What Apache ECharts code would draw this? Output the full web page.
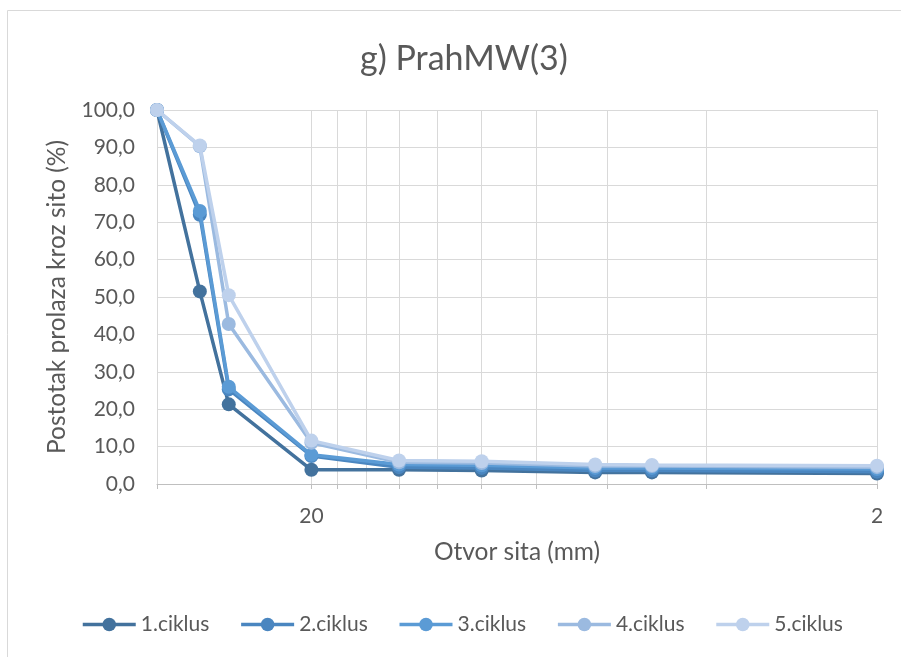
<html lang="hr">
  <head>
    <meta charset="utf-8" />
    <title>g) PrahMW(3)</title>
    <script src="https://cdn.jsdelivr.net/npm/echarts@6/dist/echarts.min.js"></script>
    <style>
      body { margin: 0; background: #fff; }
    </style>
  </head>
  <body>
    <div id="main" style="width: 901px;height:657px;"></div>
    <script type="text/javascript">
      // otvori sita (mm) i prolazi (%) po ciklusima
      var sita = [37.5, 31.5, 28, 20, 14, 10, 6.3, 5, 2];
      var ciklus1 = [100, 51.5, 21.3, 3.8, 3.8, 3.6, 3.1, 3.1, 2.8];
      var ciklus2 = [100, 72.0, 25.3, 7.5, 4.5, 4.3, 3.6, 3.6, 3.3];
      var ciklus3 = [100, 73.0, 26.0, 7.8, 5.2, 5.0, 4.3, 4.3, 4.0];
      var ciklus4 = [100, 90.3, 42.8, 11.0, 5.8, 5.6, 4.8, 4.8, 4.5];
      var ciklus5 = [100, 90.5, 50.5, 11.6, 6.3, 6.1, 5.2, 5.1, 4.9];
      var imena = ['1.ciklus', '2.ciklus', '3.ciklus', '4.ciklus', '5.ciklus'];
      var boje = ['#43729d', '#4a86c0', '#5b9bd5', '#9bbae0', '#bed1ec'];
      var xOznake = [2, 20];
      var xCrtice = [2, 4, 6, 8, 10, 12, 14, 16, 18, 20, 37.5];

      var font = 'Lato, "Open Sans", sans-serif';
      var siva = '#595959';

      function parovi(vals) {
        return sita.map(function (s, i) { return [s, vals[i]]; });
      }

      var myChart = echarts.init(document.getElementById('main'));
      var svi = [ciklus1, ciklus2, ciklus3, ciklus4, ciklus5];

      var option = {
        animation: false,
        color: boje,
        title: {
          text: 'g) PrahMW(3)',
          left: 355,
          top: 37,
          textStyle: { fontFamily: font, fontSize: 34, fontWeight: 'normal', color: siva }
        },
        graphic: [{
          type: 'rect',
          shape: { x: 7.5, y: 10.5, width: 920, height: 700 },
          style: { fill: 'none', stroke: '#d9d9d9', lineWidth: 1 },
          silent: true
        }],
        legend: {
          bottom: 17,
          left: 76,
          itemWidth: 53,
          itemHeight: 17,
          itemGap: 30,
          lineStyle: { width: 3.5 },
          textStyle: { fontFamily: font, fontSize: 21, color: siva },
          data: imena
        },
        grid: { left: 157, right: 24, top: 110, bottom: 173 },
        xAxis: {
          type: 'log',
          logBase: 10,
          min: 2,
          max: 37.5,
          inverse: true,
          name: 'Otvor sita (mm)',
          nameLocation: 'middle',
          nameGap: 56,
          nameTextStyle: { fontFamily: font, fontSize: 24.5, color: siva },
          axisLine: { lineStyle: { color: '#bfbfbf', width: 1 } },
          axisTick: { show: true, length: 5, customValues: xCrtice, lineStyle: { color: '#bfbfbf' } },
          axisLabel: {
            customValues: xOznake,
            fontFamily: font, fontSize: 21, color: siva, margin: 22,
            formatter: function (v) { return String(v); }
          },
          splitLine: { show: true, lineStyle: { color: '#d9d9d9', width: 1 } },
          minorTick: { show: false }
        },
        yAxis: {
          type: 'value',
          min: 0,
          max: 100,
          interval: 10,
          name: 'Postotak prolaza kroz sito (%)',
          nameLocation: 'middle',
          nameGap: 87,
          nameTextStyle: { fontFamily: font, fontSize: 24.5, color: siva },
          axisLine: { show: true, lineStyle: { color: '#d9d9d9', width: 1 } },
          axisTick: { show: false },
          axisLabel: {
            fontFamily: font, fontSize: 21, color: siva, margin: 22,
            formatter: function (v) { return v.toFixed(1).replace('.', ','); }
          },
          splitLine: { lineStyle: { color: '#d9d9d9', width: 1 } }
        },
        series: svi.map(function (vals, i) {
          return {
            name: imena[i],
            type: 'line',
            data: parovi(vals),
            symbol: 'circle',
            symbolSize: 14,
            z: 2 + i, // zadnji ciklusi se crtaju iznad
            lineStyle: { width: 3.5, color: boje[i] },
            itemStyle: { color: boje[i] }
          };
        })
      };

      myChart.setOption(option);
    </script>
  </body>
</html>
